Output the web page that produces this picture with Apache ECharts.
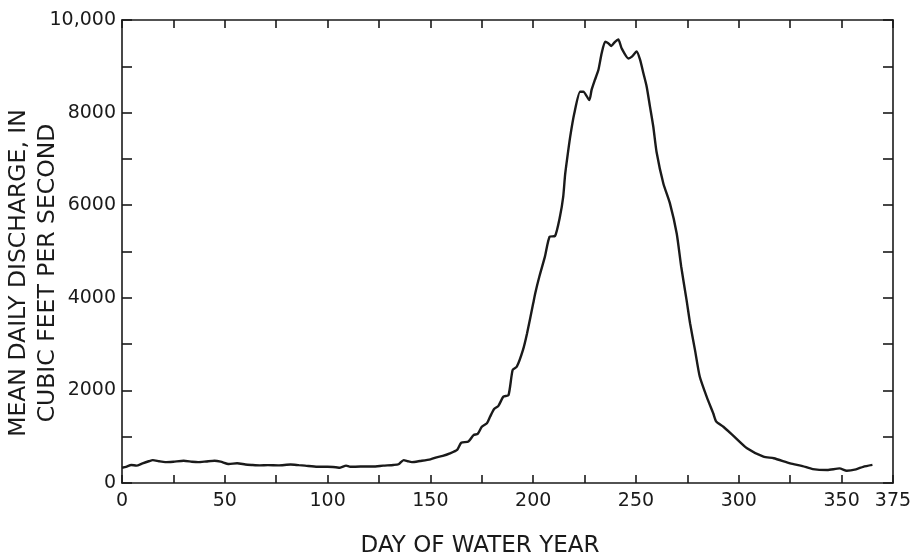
<!DOCTYPE html>
<html>
<head>
<meta charset="utf-8">
<script src="https://cdn.jsdelivr.net/npm/echarts@6/dist/echarts.min.js"></script>
<style>
  html, body { margin: 0; padding: 0; background: #fff; }
  #chart { width: 920px; height: 552px; }
</style>
</head>
<body>
<div id="chart"></div>
<script>
// Day of water year
var days = [0, 2, 4.5, 7, 10, 13, 15, 18, 21, 25, 30, 34, 37, 41, 45, 48, 52, 56, 60, 63, 67, 71, 76, 82, 86, 89, 95, 100, 104, 106, 109, 111, 116, 122, 127, 132, 134.5, 137, 139, 141, 145, 150, 153, 156, 159.5, 163, 165, 168.5, 171, 173, 175, 177.5, 179, 181, 183, 185.5, 188, 190, 192, 195, 197, 200, 201, 203, 205.7, 208, 210.6, 213, 214.6, 215.5, 216.5, 218, 220, 222.8, 224.4, 227.3, 228.4, 230, 231.7, 233.3, 235, 236.5, 238, 239.8, 241.4, 243, 246.3, 248, 250.3, 252, 253.6, 255.2, 256.8, 258.4, 260, 263.3, 266.5, 269.8, 272, 274.6, 276.3, 278.7, 281, 284.4, 287.6, 289, 292.5, 297, 304, 312, 317, 325, 331, 336, 343, 349, 352.5, 357, 360.5, 365];
// Mean daily discharge, cubic feet per second
var discharge = [330, 350, 390, 375, 425, 470, 495, 470, 450, 460, 480, 460, 450, 465, 480, 460, 410, 425, 400, 390, 380, 385, 380, 400, 385, 375, 350, 350, 340, 330, 375, 350, 355, 355, 375, 390, 405, 495, 470, 450, 475, 510, 555, 585, 640, 715, 870, 895, 1035, 1060, 1215, 1290, 1430, 1600, 1660, 1865, 1900, 2440, 2510, 2870, 3230, 3880, 4100, 4460, 4890, 5320, 5335, 5750, 6185, 6650, 7000, 7480, 7985, 8450, 8450, 8270, 8490, 8705, 8920, 9280, 9530, 9500, 9440, 9530, 9580, 9390, 9170, 9210, 9320, 9140, 8850, 8560, 8130, 7700, 7150, 6470, 6040, 5390, 4670, 3950, 3450, 2870, 2300, 1860, 1500, 1330, 1215, 1035, 750, 570, 535, 425, 365, 300, 280, 315, 265, 295, 350, 390];
// Tick labels
var xTickLabels = [0, 50, 100, 150, 200, 250, 300, 350, 375];
var yTickLabels = { 0: '0', 2000: '2000', 4000: '4000', 6000: '6000', 8000: '8000', 10000: '10,000' };
var xTitle = 'DAY OF WATER YEAR';
var yTitle = 'MEAN DAILY DISCHARGE, IN\nCUBIC FEET PER SECOND';

var seriesData = days.map(function (d, i) { return [d, discharge[i]]; });

var ink = '#1a1a1a';
var tickFont = { fontFamily: 'DejaVu Sans', fontSize: 19, color: ink };

function xAx(pos, showLabels) {
  return {
    type: 'value', position: pos, min: 0, max: 375, interval: 25,
    axisLine: { show: true, onZero: false, lineStyle: { color: ink, width: 1.6 } },
    axisTick: { show: true, inside: true, length: 8, lineStyle: { color: ink, width: 1.6 } },
    splitLine: { show: false },
    axisLabel: showLabels ? Object.assign({
      show: true, margin: 9,
      formatter: function (v) { return xTickLabels.indexOf(v) >= 0 ? String(v) : ''; }
    }, tickFont) : { show: false }
  };
}
function yAx(pos, showLabels) {
  return {
    type: 'value', position: pos, min: 0, max: 10000, interval: 1000,
    axisLine: { show: true, onZero: false, lineStyle: { color: ink, width: 1.6 } },
    axisTick: { show: true, inside: true, length: 10, lineStyle: { color: ink, width: 1.6 } },
    splitLine: { show: false },
    axisLabel: showLabels ? Object.assign({
      show: true, margin: 6,
      formatter: function (v) { return yTickLabels[v] !== undefined ? yTickLabels[v] : ''; }
    }, tickFont) : { show: false }
  };
}

var chart = echarts.init(document.getElementById('chart'), null, { renderer: 'canvas' });
chart.setOption({
  animation: false,
  backgroundColor: '#fff',
  grid: { left: 122, right: 27, top: 20, bottom: 69, containLabel: false },
  xAxis: [xAx('bottom', true), xAx('top', false)],
  yAxis: [yAx('left', true), yAx('right', false)],
  series: [{
    type: 'line',
    xAxisIndex: 0, yAxisIndex: 0,
    data: seriesData,
    showSymbol: false,
    smooth: 0.2,
    lineStyle: { color: ink, width: 2.4 }
  }],
  graphic: [
    {
      type: 'text', x: 33, y: 273, rotation: Math.PI / 2,
      style: {
        text: yTitle, fill: ink, font: '23.5px "DejaVu Sans"',
        textAlign: 'center', textVerticalAlign: 'middle',
        align: 'center', verticalAlign: 'middle', lineHeight: 29
      }
    },
    {
      type: 'text', x: 480, y: 546,
      style: {
        text: xTitle, fill: ink, font: '23px "DejaVu Sans"',
        textAlign: 'center', textVerticalAlign: 'middle',
        align: 'center', verticalAlign: 'middle'
      }
    }
  ]
});
</script>
</body>
</html>
